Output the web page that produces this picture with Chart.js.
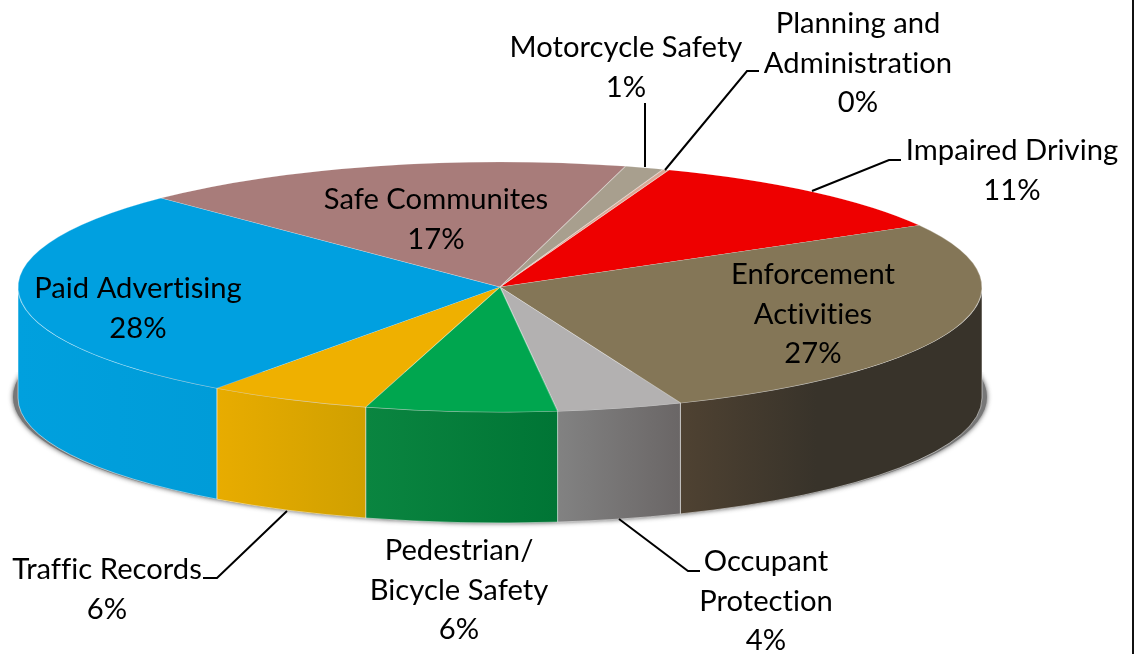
<!DOCTYPE html>
<html>
<head>
<meta charset="utf-8">
<title>Pie</title>
<style>
html, body { margin: 0; padding: 0; background: #fff; }
canvas { display: block; }
</style>
<script src="https://cdn.jsdelivr.net/npm/chart.js@4"></script>
</head>
<body>
<canvas id="chart-pie" width="1136" height="654"></canvas>
<script>
// slices, clockwise starting at the red one
var categories = ['Impaired Driving', 'Enforcement Activities', 'Occupant Protection', 'Pedestrian/ Bicycle Safety',
    'Traffic Records', 'Paid Advertising', 'Safe Communites', 'Motorcycle Safety', 'Planning and Administration'];
var percents = [11.1, 27.1, 4.2, 6.4, 5.5, 27.6, 16.6, 1.3, 0.2];

var topColors = ['#ee0000', '#847657', '#b3b1b1', '#00a64f', '#efb000', '#00a0e0', '#a87c7a', '#a89f8e', '#d9a896'];
var wallLeft = ['#c00000', '#4f4232', '#828282', '#0a8540', '#e8ac00', '#00a0de', '#8a6664', '#8a8272', '#b08070'];
var wallRight = ['#c00000', '#38332a', '#6a6666', '#007535', '#d0a000', '#009cd8', '#8a6664', '#8a8272', '#b08070'];

// label text: line breaks and where each block sits
var labelLines = [['Impaired Driving'], ['Enforcement', 'Activities'], ['Occupant', 'Protection'], ['Pedestrian/', 'Bicycle Safety'],
    ['Traffic Records'], ['Paid Advertising'], ['Safe Communites'], ['Motorcycle Safety'], ['Planning and', 'Administration']];
var labelX = [1012, 813, 766, 459, 107, 138, 436, 626, 858];
var labelY = [160, 284, 571, 560, 579, 298, 209, 57, 33];
var LINE_H = 39.5;

var leaders = [
    [[901, 160], [889, 160], [812, 191]],
    [[700, 571], [688, 571], [619, 519]],
    [[203, 578], [217, 578], [287, 511]],
    [[645, 103], [645, 167]],
    [[759, 71], [747, 71], [665, 170]]
];

// where the squashed pie ends up on the page
var CX = 500, CY = 287, RX = 482, RY = 125, DEPTH = 111;

var pie3d = {
    id: 'pie3d',
    beforeDatasetsDraw: function (chart) {
        var ctx = chart.ctx;
        var arcs = chart.getDatasetMeta(0).data;

        // soft shadow under the disc
        ctx.save();
        ctx.beginPath();
        ctx.rect(0, 372, chart.width, chart.height - 372);
        ctx.clip();
        ctx.shadowColor = 'rgba(60,60,60,0.9)';
        ctx.shadowBlur = 5;
        ctx.fillStyle = '#777';
        ctx.beginPath();
        ctx.ellipse(CX, CY + DEPTH - 1, RX + 5, RY + 1, 0, 0, Math.PI * 2);
        ctx.fill();
        ctx.restore();

        // side wall, only the front half shows
        arcs.forEach(function (arc, i) {
            var a0 = Math.max(arc.startAngle, 0);
            var a1 = Math.min(arc.endAngle, Math.PI);
            if (a1 <= a0) return;
            var x0 = CX + RX * Math.cos(a1), x1 = CX + RX * Math.cos(a0);
            var g = ctx.createLinearGradient(x0, 0, x1, 0);
            g.addColorStop(0, wallLeft[i]);
            g.addColorStop(i === 1 ? 0.45 : 1, wallRight[i]);
            g.addColorStop(1, wallRight[i]);
            ctx.beginPath();
            ctx.ellipse(CX, CY, RX, RY, 0, a0, a1);
            ctx.ellipse(CX, CY + DEPTH, RX, RY, 0, a1, a0, true);
            ctx.closePath();
            ctx.fillStyle = g;
            ctx.fill();
            ctx.strokeStyle = 'rgba(255,255,255,0.5)';
            ctx.lineWidth = 1;
            ctx.stroke();
        });

        // squash the library's round pie into the top ellipse
        var first = arcs[0];
        ctx.save();
        ctx.translate(CX, CY);
        ctx.scale(RX / first.outerRadius, RY / first.outerRadius);
        ctx.translate(-first.x, -first.y);
    },
    afterDatasetsDraw: function (chart) {
        var ctx = chart.ctx;
        ctx.restore();

        ctx.strokeStyle = '#000';
        ctx.lineWidth = 2;
        leaders.forEach(function (pts) {
            ctx.beginPath();
            pts.forEach(function (p, k) {
                if (k === 0) ctx.moveTo(p[0], p[1]); else ctx.lineTo(p[0], p[1]);
            });
            ctx.stroke();
        });

        ctx.fillStyle = '#000';
        ctx.font = '29.2px Lato';
        ctx.letterSpacing = '0.01px'; // keeps the ti / ffi ligatures off
        ctx.textAlign = 'center';
        ctx.textBaseline = 'alphabetic';
        labelLines.forEach(function (lines, i) {
            var rows = lines.concat([Math.round(percents[i]) + '%']);
            rows.forEach(function (row, k) {
                ctx.fillText(row, labelX[i], labelY[i] + k * LINE_H);
            });
        });

        // frame line on the right
        ctx.fillStyle = '#111';
        ctx.fillRect(1132, 0, 2, chart.height);
    }
};

var chart = new Chart(document.getElementById('chart-pie').getContext('2d'), {
    type: 'pie',
    data: {
        labels: categories,
        datasets: [{
            data: percents,
            backgroundColor: topColors,
            borderColor: 'rgba(255,255,255,0.3)',
            borderWidth: 1
        }]
    },
    options: {
        responsive: false,
        animation: false,
        rotation: 20.5,
        plugins: {
            legend: { display: false },
            tooltip: { enabled: false }
        }
    },
    plugins: [pie3d]
});
</script>
</body>
</html>
